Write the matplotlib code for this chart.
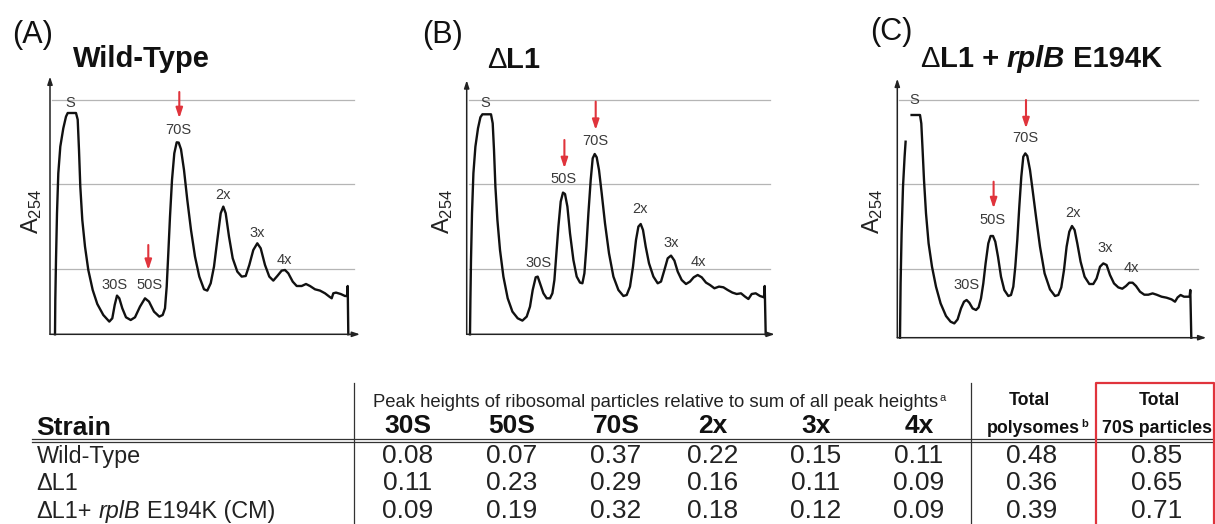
import numpy as np
import matplotlib
matplotlib.use("Agg")
import matplotlib.pyplot as plt

plt.rcParams['font.family'] = ['Liberation Sans', 'DejaVu Sans']
plt.rcParams['mathtext.fontset'] = 'custom'
plt.rcParams['mathtext.rm'] = 'Liberation Sans'
plt.rcParams['mathtext.default'] = 'regular'

nan = float('nan')

# ---- sucrose gradient profiles (position along gradient, A254 in arbitrary units)
wt_x = [5, 5.3, 6, 7, 8.3, 10.3, 13.3, 16, 17.7, 26, 27.7, 29, 30.3, 32.3, 35, 38.3, 42.7,
        47.3, 53.3, 59.3, 62.3, 64.7, 67, 69.3, 72.3, 76, 80.7, 85, 90, 95, 99, 104, 109.3,
        112.7, 115, 116.7, 118.3, 120, 122, 124.3, 126.7, 128.7, 131, 134, 137.3, 141, 145,
        149.3, 154, 157.3, 160.7, 164, 167.3, 170.7, 173.3, 175.7, 179, 182.7, 187.3, 191.7,
        195.7, 199.3, 203.3, 207.3, 210.7, 215, 219.3, 223.3, 227.3, 231.7, 235, 238.3, 242.7,
        246.7, 251.7, 256, 260, 265, 270, 275, 279.3, 281.7, 283.3, 286, 290.7, 295, 297,
        297.7, 298.3]
wt_a254 = [0, 34.3, 74.3, 121, 161, 187.7, 206, 217.7, 221.3, 221.3, 214.7, 184.3, 147.7,
           114.3, 87.7, 64.3, 44.3, 30.3, 19.3, 12.7, 16, 29.3, 38.7, 36, 26, 17, 14.3, 17,
           27.7, 36, 32.7, 22.7, 17.7, 19.3, 26, 47.7, 81, 117.7, 154.3, 181, 192, 191.7, 185,
           164.3, 134.3, 104.3, 77.7, 57.7, 45, 43.7, 51, 67.7, 94.3, 121, 127.7, 121, 97.7, 76,
           62.7, 57.7, 58.3, 69.3, 84.3, 91, 86, 69.3, 57.7, 53.7, 58.3, 63.7, 64.3, 61, 52.7,
           48.3, 48.3, 50.3, 48.3, 45, 43.7, 41, 37.7, 36, 41, 41.7, 40.3, 38.3, 38.3, 48.3, 0]

dl1_x = [3.3, 3.7, 4.3, 5.3, 6.7, 8.7, 11.3, 13.7, 15.7, 24.3, 26, 27.3, 28.7, 30.7, 33.3,
         36.7, 41, 45.7, 51, 55.7, 60, 63.3, 66, 69, 71, 73.3, 76.7, 80, 83.3, 85.7, 87.7,
         89.7, 91.7, 94, 96.3, 98.3, 100.7, 103.3, 106.7, 110, 113.3, 115.7, 117.7, 119.7,
         121.7, 124, 126, 128, 130, 132.3, 135, 138.3, 142.3, 146.7, 151.7, 156.7, 160, 163.3,
         166.3, 169.3, 171.7, 174, 176.3, 179, 182.3, 186.7, 191, 194.3, 197.7, 201, 204.3,
         207.7, 211, 215, 219.3, 223.3, 227, 231, 235, 239.3, 243.3, 247.7, 252.3, 256.7, 261,
         265.7, 270, 274.3, 278.3, 281.7, 285, 289, 293.3, 297.3, 298, 299]
dl1_a254 = [0, 34.3, 74.3, 121, 161, 187.7, 206, 217, 220, 220, 211, 184.3, 147.7, 114.3,
            84.3, 57.7, 36, 22.7, 16, 13.7, 17.7, 27.7, 44.3, 57, 57.7, 51, 41, 36, 36, 41,
            54.3, 81, 107.7, 132.7, 141.7, 140.3, 127.7, 101, 74.3, 57.7, 51.7, 51, 61, 87.7,
            121, 154.3, 176, 180.3, 177, 164.3, 141, 111, 81, 57.7, 44.3, 38.3, 39.3, 47.7,
            67.7, 94.3, 107.7, 110.3, 104.3, 87.7, 71, 57.7, 51, 52.7, 64.3, 76, 78.7, 73.7,
            62.7, 54.3, 50.3, 52.7, 57, 59.3, 57, 51.7, 49.3, 46, 47.7, 47, 44.3, 41.7, 40.3,
            41, 37.7, 35.3, 40.3, 41, 38.3, 37, 48.3, 0]

sup_x = [2.7, 3.3, 4.3, 5.7, 7.3, 8.3, nan, 14.3, 22.7, 24, 25.3, 26.7, 28.7, 31.3, 34.7,
         38.7, 43.3, 48.7, 53.3, 57, 60.3, 63.7, 66.7, 69.3, 72, 75.3, 78.7, 81.3, 83.7, 86,
         88.3, 91, 93.3, 95.7, 98, 100.7, 103.7, 107, 111, 113.7, 116, 118, 120, 122, 124,
         126, 128, 130, 132.7, 135.3, 138.7, 142.7, 147.3, 152.7, 157.7, 161, 164, 166.7,
         169.3, 172, 174.7, 177.3, 180, 183.3, 187.3, 192, 196, 199.3, 202.7, 206, 209.3,
         212.7, 216.7, 221, 225, 228.7, 232, 235.3, 238.7, 242.7, 247, 251, 255.3, 259.3,
         264.3, 269.3, 274.3, 277.7, 280.3, 283.3, 286.7, 290, 292.3, 293, 294]
sup_a254 = [0, 54.3, 104.3, 151, 181, 196, nan, 222.7, 222.7, 214.3, 187.7, 157.7, 124.3,
            94.3, 71, 51, 34.3, 21.7, 16, 14.3, 18.3, 29.3, 36, 37.7, 35, 29.3, 27.7, 30.3,
            39.3, 54.3, 74.3, 94.3, 101.7, 101.7, 96, 81, 61, 47.7, 41.7, 42.7, 51, 71, 97.7,
            131, 161, 181, 184.3, 181.7, 167.7, 147.7, 121, 91, 64.3, 48.3, 41.7, 42.7, 50.3,
            67.7, 91, 106, 111.7, 107.7, 94.3, 76, 61, 53.7, 53.7, 59.3, 71, 74.3, 72.7, 62.7,
            54.3, 50.3, 49, 51.7, 55, 55, 51.7, 46, 43, 43, 44.3, 43, 41, 40, 38.3, 36, 40.3,
            42.7, 41, 41, 41, 47.7, 0]

peak_names = ["S", "30S", "50S", "70S", "2x", "3x", "4x"]
wt_label_x = [20, 65, 100, 128.3, 173.3, 207.7, 234.3]
wt_label_y = [231, 49.3, 49.3, 204.3, 139.3, 101, 74.3]
dl1_label_x = [18.3, 71.7, 96.7, 129, 173.3, 205, 231.7]
dl1_label_y = [231.7, 71, 155, 193.7, 125, 91.7, 72.7]
sup_label_x = [16.7, 69.3, 95.3, 127.7, 176, 207.7, 234.3]
sup_label_y = [237.7, 52.7, 117.7, 199.3, 125, 89.3, 69.3]

# red arrows marking 50S and 70S (x, tail, tip)
wt_arrows = [(98.3, 89.3, 64.3), (129.3, 242.3, 216)]
dl1_arrows = [(97.7, 194.3, 166), (129, 232.7, 204.3)]
sup_arrows = [(96.3, 156, 129.3), (128.7, 237.7, 209.3)]

wt_grid = [65.3, 150, 234.3]
sup_grid = [68.7, 153.3, 237.7]

# ---- table
strains = ["Wild-Type", "ΔL1", "ΔL1+ rplB E194K (CM)"]
particles = ["30S", "50S", "70S", "2x", "3x", "4x"]
peak_frac = [[0.08, 0.07, 0.37, 0.22, 0.15, 0.11],
             [0.11, 0.23, 0.29, 0.16, 0.11, 0.09],
             [0.09, 0.19, 0.32, 0.18, 0.12, 0.09]]
total_polysomes = [0.48, 0.36, 0.39]
total_70s = [0.85, 0.65, 0.71]

W, H = 1215, 524
fig = plt.figure(figsize=(W / 100, H / 100), dpi=100)
fig.patch.set_facecolor('white')

# overlay axes in pixel units for titles and the table
ov = fig.add_axes([0, 0, 1, 1])
ov.set_xlim(0, W)
ov.set_ylim(H, 0)
ov.axis('off')
ov.patch.set_alpha(0)

renderer = fig.canvas.get_renderer()
PX = 100 / 72.0


def put_run(x, y, pieces, ha='left'):
    # pieces: (text, kwargs, raise_px, gap_px)
    items = []
    total = 0
    for s, kw, dy, gap in pieces:
        t = ov.text(0, 0, s, va='baseline', **kw)
        w = t.get_window_extent(renderer).width
        items.append((t, w, dy, gap))
        total += w + gap
    x0 = x - total / 2 if ha == 'center' else x
    for t, w, dy, gap in items:
        t.set_position((x0, y - dy))
        x0 += w + gap


trace_col = '#111111'
lab_col = '#3a3a3a'
red = '#e0343c'

panels = [
    (50, 334.3, wt_x, wt_a254, wt_label_x, wt_label_y, wt_arrows, wt_grid, 304, 257.7, 310),
    (466.7, 334.3, dl1_x, dl1_a254, dl1_label_x, dl1_label_y, dl1_arrows, wt_grid, 303, 254, 308),
    (897.3, 337.7, sup_x, sup_a254, sup_label_x, sup_label_y, sup_arrows, sup_grid, 301, 259, 309),
]

for ox, oy, xs, ys, lx, ly, arrows, grid, gx1, ytop, xend in panels:
    ax = fig.add_axes([(ox - 20) / W, (H - oy - 10) / H, 340 / W, 290 / H])
    ax.set_xlim(-20, 320)
    ax.set_ylim(-10, 280)
    ax.axis('off')
    ax.patch.set_alpha(0)
    for g in grid:
        ax.plot([2, gx1], [g, g], color='#b5b5b5', lw=0.9, zorder=1)
    ax.plot(xs, ys, color=trace_col, lw=1.7, solid_joinstyle='round', zorder=3)
    ax.annotate('', xy=(0, ytop), xytext=(0, 0),
                arrowprops=dict(arrowstyle='-|>,head_length=0.45,head_width=0.15',
                                color='#222222', lw=1.1, shrinkA=0, shrinkB=0))
    ax.annotate('', xy=(xend, 0), xytext=(0, 0),
                arrowprops=dict(arrowstyle='-|>,head_length=0.45,head_width=0.15',
                                color='#222222', lw=1.1, shrinkA=0, shrinkB=0))
    for name, x, y in zip(peak_names, lx, ly):
        ax.text(x, y, name, ha='center', va='center', fontsize=10.5, color=lab_col, zorder=4)
    for x, tail, tip in arrows:
        ax.annotate('', xy=(x, tip), xytext=(x, tail),
                    arrowprops=dict(arrowstyle='-|>,head_length=0.6,head_width=0.2',
                                    color=red, lw=1.5, shrinkA=0, shrinkB=0))

# y-axis labels
for x in [31.5, 442.5, 873]:
    ov.text(x, 211, 'A$_{254}$', rotation=90, ha='center', va='center', fontsize=17,
            color='#222222')

# panel letters and titles
for x, y, s in [(11.7, 43.5, '(A)'), (421.7, 43.5, '(B)'), (870, 40, '(C)')]:
    ov.text(x, y, s, fontsize=22, va='baseline', color='#111111')

bold = dict(fontsize=21, fontweight='bold', color='#111111')
put_run(73.3, 67, [('Wild-Type', bold, 0, 0)])
put_run(486.7, 68.3, [('Δ', dict(fontsize=21, color='#111111'), 0, 0),
                      ('L1', bold, 0, 0)])
put_run(920, 66.7, [('Δ', dict(fontsize=21, color='#111111'), 0, 0),
                    ('L1 +', bold, 0, 0.278 * 21 * PX),
                    ('rplB', dict(bold, fontstyle='italic'), 0, 0.278 * 21 * PX),
                    ('E194K', bold, 0, 0)])

# ---- table
line_col = '#333333'
ov.plot([354, 354], [383, H], color=line_col, lw=0.9)
ov.plot([971, 971], [383, H], color=line_col, lw=0.9)
ov.plot([31.7, W], [439.3, 439.3], color=line_col, lw=0.9)
ov.plot([31.7, W], [441.9, 441.9], color=line_col, lw=0.9)
ov.plot([1095.7, 1095.7, 1213.5, 1213.5], [H, 383.3, 383.3, H], color=red, lw=1.6)

hdr = dict(fontsize=13.3, color='#222222')
put_run(372.7, 406.7, [('Peak heights of ribosomal particles relative to sum of all peak heights',
                        hdr, 0, 1.5),
                       ('a', dict(fontsize=8, color='#222222'), 6, 0)])
tot = dict(fontsize=12.8, fontweight='bold', color='#111111')
put_run(1029, 405, [('Total', tot, 0, 0)], ha='center')
put_run(1037, 433, [('polysomes', tot, 0, 1.5),
                    ('b', dict(fontsize=8, fontweight='bold', color='#111111'), 6, 0)],
        ha='center')
put_run(1159, 405, [('Total', tot, 0, 0)], ha='center')
put_run(1157, 433, [('70S particles', tot, 0, 0)], ha='center')

put_run(36.7, 435, [('Strain', dict(fontsize=19, fontweight='bold', color='#111111'), 0, 0)])

col_x = [408, 512, 616, 713, 816, 919]
for cx, name in zip(col_x, particles):
    put_run(cx, 433, [(name, dict(fontsize=19, fontweight='bold', color='#111111'), 0, 0)],
            ha='center')

row_y = [463, 490.5, 518]
rowlab = dict(fontsize=16.8, color='#222222')
gap = 0.278 * 16.8 * PX
for ry, strain, vals, tp, t70 in zip(row_y, strains, peak_frac, total_polysomes, total_70s):
    if 'rplB' in strain:
        put_run(36.7, ry, [('ΔL1+', rowlab, 0, gap),
                           ('rplB', dict(rowlab, fontstyle='italic'), 0, gap),
                           ('E194K (CM)', rowlab, 0, 0)])
    else:
        put_run(36.7, ry, [(strain, rowlab, 0, 0)])
    for cx, v in zip(col_x + [1032, 1157], vals + [tp, t70]):
        put_run(cx, ry, [('%.2f' % v, dict(fontsize=19, color='#222222'), 0, 0)], ha='center')

fig.savefig('out.png', dpi=100, facecolor='white')
